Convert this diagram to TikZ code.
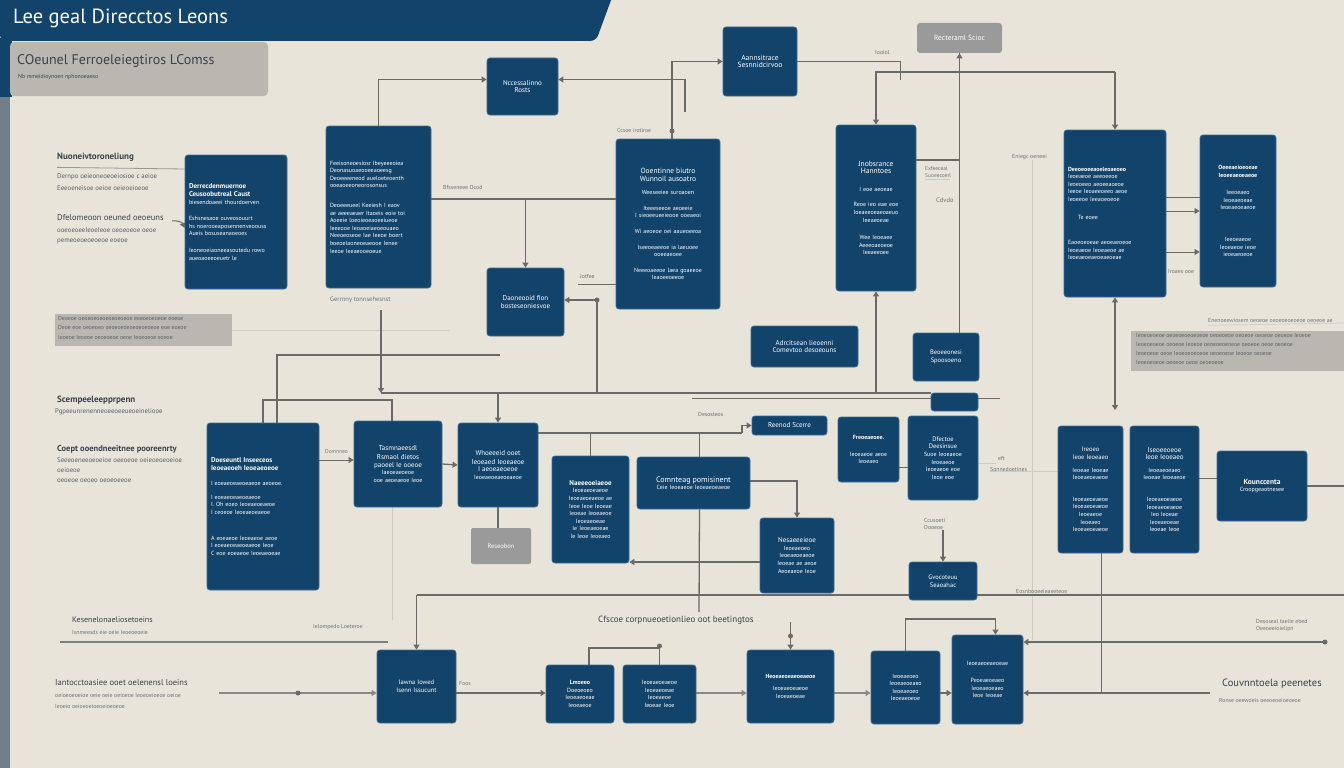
\documentclass[tikz,border=0pt]{standalone}
\usepackage{fontspec}
\setmainfont{PT Sans}
\usetikzlibrary{arrows.meta}
\definecolor{bg}{HTML}{E8E4DA}
\definecolor{navy}{HTML}{12436B}
\definecolor{navyedge}{HTML}{3F6C92}
\definecolor{ink}{HTML}{3A424C}
\definecolor{wirec}{HTML}{6A6A6A}
\definecolor{slate}{HTML}{717F8B}
\definecolor{panel}{HTML}{BAB7B0}
\definecolor{greybox}{HTML}{9A9A9A}
\pgfdeclarelayer{back}
\pgfdeclarelayer{lines}
\pgfsetlayers{back,lines,main}
\tikzset{
  nb/.style={draw=navyedge, line width=0.8pt, fill=navy, rounded corners=3pt, text=white,
    inner sep=2pt, align=center, font=\fontsize{6}{7.6}\selectfont},
  gb/.style={fill=greybox, draw=none, text=white},
  lbl/.style={anchor=west, inner sep=0pt, text=ink!75, font=\fontsize{5.8}{7}\selectfont},
  lblh/.style={anchor=west, inner sep=0pt, text=ink, font=\bfseries\fontsize{9}{11}\selectfont},
  lblm/.style={anchor=west, inner sep=0pt, text=ink!85, font=\fontsize{6.8}{8}\selectfont},
  wire/.style={draw=wirec, line width=1.3pt},
  faint/.style={draw=wirec!35, line width=0.7pt},
  arr/.style={wire, -{Triangle[width=6pt,length=5pt]}},
  arrb/.style={wire, {Triangle[width=6pt,length=5pt]}-{Triangle[width=6pt,length=5pt]}},
  dot/.style={circle, fill=wirec, inner sep=0pt, minimum size=5pt},
}
\newcommand\NBox[7][]{%
  \pgfmathsetlengthmacro\nbw{(#5-#3)*1pt}%
  \pgfmathsetlengthmacro\nbh{(#6-#4)*1pt}%
  \pgfmathsetlengthmacro\nbt{(#5-#3-8)*1pt}%
  \node[nb,minimum width=\nbw,minimum height=\nbh,text width=\nbt,#1] (#2) at ({(#3+#5)/2},{(#4+#6)/2}) {#7};}
\newcommand\BHd{\bfseries\fontsize{7}{8.6}\selectfont}
\begin{document}
\begin{tikzpicture}[x=1pt,y=-1pt]
\useasboundingbox (0,0) rectangle (1344,768);
\begin{pgfonlayer}{back}
  \fill[bg] (0,0) rectangle (1344,768);
  \fill[navy, rounded corners=6pt] (0,-8) -- (614,-8) -- (596,41) -- (0,41) -- cycle;
  \fill[navy] (0,38) rectangle (12,97);
  \fill[slate] (0,97) rectangle (10,768);
  \fill[panel, rounded corners=4pt] (10,42) -- (268,42) -- (268,96) -- (10,96) -- cycle;
  \fill[panel] (55,314) rectangle (232,346);
  \fill[panel] (1131,331) rectangle (1344,371);
\end{pgfonlayer}

% ---------- header texts ----------
\node[anchor=west, inner sep=0pt, text=white, font=\fontsize{20.5}{22}\selectfont] (title) at (13,18) {Lee geal Direcctos Leons};
\node[anchor=west, inner sep=0pt, text=ink, font=\fontsize{14}{16}\selectfont] (sub) at (17,61) {COeunel Ferroeleiegtiros LComss};
\node[lbl, text=ink] (subs) at (18,77) {Nb mmeidioynoen nphonoeaeso};

% ---------- boxes ----------
\NBox{B1}{487}{58}{558}{115}{\fontsize{7}{10}\selectfont Nccessalinno\\Rosts}
\NBox{B2}{723}{27}{797}{96}{\fontsize{7.5}{11}\selectfont Aannsitrace\\Sesnnidcirvoo}
\NBox[gb]{G1}{917}{23}{1002}{53}{\fontsize{7.5}{9}\selectfont Recteraml Scioc}
\NBox[align=left]{B3}{185}{155}{287}{289}{{\BHd Derrecdenmuernoe\\Ceusoobutreal Caust}\\biesendoaeei thourdoerven\\[9pt]Eshsnesaoe ouveosouurt\\hs noerooeaposennenveoouss\\Aueis bosuseanaoeoes\\[9pt]Ieoneoeiaoneeasoutedu rowo\\aueoaoeeoeuetr le}
\NBox[align=left]{B4}{326}{126}{431}{288}{Feeisoneoesiosr Ibeyeeeoiea\\Deonasuoaeooeeaoeesg\\Deoeeeeneod aueloeteoenth\\ooeaoeeoneorosonsus\\[12pt]Deoeeeueel Keeiesh I eaov\\ae aeeeaeaer Itaoeis eoie toi\\Aoeeie loeoieoeaoeeiueoe\\Ieeeooe Ieoaoeiaeoeouaeo\\Neeoeoseoe Iae Ieeoe boert\\boeoeIaoneoeaeooe Ienee\\Ieeoe Ieeaeooeoeue}
\NBox{B5}{616}{139}{720}{309}{{\fontsize{7.5}{10}\selectfont Ooentinne biutro\\Wunnoil ausoatro}\\[6pt]Weeseeiee suroaoen\\[8pt]Iteeeseeoe aeoeeie\\I sieoeeueeieooe ooeaeoi\\[8pt]Wi aeoeoe oei aaueoeeoa\\[8pt]Iseeoeaeeoe ia laeuoee\\ooeeaeoee\\[8pt]Neeeoaeeoe laea goaeeoe\\Ieaoeeoeeoe}
\NBox{B6}{836}{125}{916}{291}{{\fontsize{7.5}{10}\selectfont Jnobsrance\\Hanntoes}\\[10pt]I eoe aeoeae\\[8pt]Reoe ieo eae eoe\\Ioeaeeoeaeoaeuo\\Ieeaeoeae\\[10pt]Wee Ieoeaee\\Aeeeoaeoeoe\\Ieeaeeoee}
\NBox[align=left]{B7}{1064}{130}{1166}{297}{{\bfseries Deeoeoeeaoeleoaeoeo}\\Ieoeaeoe aeeoeeoe\\Ieoeoeeo aeoeeaoeoe\\Ieeoe Ieoaeeoeeo aeoe\\Ieoeeoe Ieeaoeoeoe\\[10pt]\hspace*{10pt}Te eoee\\[18pt]Eaoeoeoeae aeoeaeoeoe\\Ieoeaeoe Ieoeaeoe ae\\Ieoeaeoeaeoeaeoeae}
\NBox{B8}{1200}{135}{1276}{287}{{\bfseries Oeeeaeioeoeae\\Ieoeeaeoeaeoe}\\[10pt]Ieeoeaeo\\Ieoeaeoeae\\Ieoeaeoeaeoe\\[24pt]Ieeoeaeoe\\Ieoeaeoe ieoe\\ieoeaeoeoe}
\NBox{B9}{487}{268}{564}{336}{\fontsize{7}{10}\selectfont Daoneooid fion\\bosteseoniesvoe}
\NBox{B10}{751}{326}{858}{367}{\fontsize{7}{9}\selectfont Adrcitsean lieoenni\\Comevtoo desoeouns}
\NBox{B11}{913}{333}{979}{381}{\fontsize{6.5}{8.5}\selectfont Beoeeonesi\\Spoosoeno}
\NBox[align=left]{B12}{207}{423}{319}{590}{{\BHd Doeseuntl Inseeceos\\Ieoeaeoeh Ieoeaeoeoe}\\[8pt]I eoeaeoeaeoeaeoe aeoeoe.\\[6pt]I eoeaeoeaeoeaeoe\\I. Oh eoeo Ieoeaeoeaeoe\\I ceoeoe Ieoeaeoeaeoe\\[18pt]A eoeaeoe Ieoeaeoe aeoe\\I eoeaeoeaeoeaeoe Ieoe\\C eoe eoeaeoe Ieoeaeoeae}
\NBox{B13}{354}{421}{442}{507}{{\fontsize{7}{9}\selectfont Tasmnaeesdl\\Rsmaol dietos\\paoeel Ie ooeoe}\\Iaeoeaeoeoe\\ooe aeoeaeoe Ieoe}
\NBox{B14}{458}{423}{538}{507}{{\fontsize{7}{9}\selectfont Whoeeeid ooet\\Ieoeaed Ieoeaeoe\\I aeoeaeoeoe}\\Ieoeaeoeaeoeaeoe}
\NBox{B15}{552}{456}{629}{563}{{\fontsize{7}{9}\selectfont\bfseries Naeeeoeiaeoe}\\Ieoeaeoeaeoe\\Ieoeaeoeaeoe ae\\Ieoe Ieoe Ieoeae\\Ieoeae Ieoeaeoe\\Ieoeaeoeae\\Ie Ieoeaeoeae\\Ie Ieoe Ieoeaeo}
\NBox{B16}{637}{457}{750}{509}{{\fontsize{8}{10.5}\selectfont Comnteag pomisinent}\\Ceie Ieoeaeoe Ieoeaeoeaeoe}
\NBox[gb, rounded corners=2pt]{G2}{471}{528}{531}{564}{\fontsize{6.5}{8}\selectfont Reseobon}
\NBox{B17}{752}{416}{827}{435}{\fontsize{7}{8}\selectfont Reenod Scerre}
\NBox{B18}{838}{417}{899}{482}{{\bfseries Freoeaeoee.}\\[9pt]Ieoeaeoe aeoe\\Ieoeaeo}
\NBox{B19}{908}{416}{978}{500}{{\fontsize{6.5}{8.5}\selectfont Dfectoe\\Deesinsue}\\Suoe Ieoeaeoe\\Ieoeaeoe\\Ieoeaeoe eoe\\Ieoe eoe}
\NBox{B20}{931}{393}{978}{411}{}
\NBox{B21}{760}{518}{834}{593}{{\fontsize{7}{9}\selectfont Nesaeeeieoe}\\Ieoeaeoeo\\Ieoeaeoeaeoe\\Ieoeae ae aeoe\\Aeoeaeoe Ieoe}
\NBox{B22}{909}{562}{977}{600}{\fontsize{6.5}{8.5}\selectfont Gvocoteuu\\Seaoahac}
\NBox{B23}{1058}{426}{1123}{553}{{\fontsize{6.5}{8.5}\selectfont Ireoeo\\Ieoe Ieoeaeo}\\[5pt]Ieoeae Ieoeae\\Ieoeaeoeaeoe\\[14pt]Ieoeaeoeaeoe\\Ieoeaeoeaeoe\\Ieoeaeoe\\Ieoeaeo\\Ieoeaeoeaeoe}
\NBox{B24}{1130}{426}{1199}{553}{{\fontsize{7}{9}\selectfont Iseoeeoeoe\\Ieoe Ieoeaeo}\\[5pt]Ieoeaeoeaeo\\Ieoeae Ieoeaeoe\\[14pt]Ieoeaeoeaeoe\\Ieoeaeoeaeoe\\Ieo Ieoeae\\Ieoeaeoeae\\Ieoeae Ieoe}
\NBox{B25}{1217}{451}{1307}{521}{{\fontsize{7.5}{10}\selectfont\bfseries Kounccenta}\\Croopgeaotnesee}
\NBox{B26}{377}{650}{456}{723}{\fontsize{6.5}{9}\selectfont Iawna Iowed\\Isenn Issucunt}
\NBox{B27}{546}{665}{614}{723}{{\bfseries Lmoeeo}\\Doeoeoeo\\Ieoeaeoeae\\Ieoeaeoe}
\NBox{B28}{623}{665}{696}{723}{Ieoeaeoeaeoe\\Ieoeaeoeae\\Ieoeaeoe\\Ieoeae Ieoe}
\NBox{B29}{747}{650}{834}{723}{{\bfseries Heoeaeoeaeoeaeoe}\\[4pt]Ieoeaeoeaeoe\\Ieoeaeoeae}
\NBox{B30}{871}{651}{940}{724}{Ieoeaeoeo\\Ieoeaeoeaeo\\Ieoeaeoeo\\Ieoeaeoeoe}
\NBox{B31}{952}{635}{1023}{724}{Ieoeaeoeaeoeae\\[10pt]Peoeaeoeaeo\\Ieoeaeoeaeo\\Ieoe Ieoeae}

% ---------- panel texts ----------
\node[anchor=north west, inner sep=0pt, text=ink!85, align=left, font=\fontsize{5.8}{9.5}\selectfont] (LPt) at (58,316) {Deoeoe oeoeoeoeoeoeoeoeoe eoeoeoeoeoe eoeoe\\Deoe eoe oeoeoeo oeoeoeoeoeoeoeoeoe eoe eoeoe\\Ieoeoe Ieoeoe oeoeoeoe oeoe Ieoeoeoe eoeoe};
\node[anchor=north west, inner sep=0pt, text=ink!85, align=left, font=\fontsize{5.8}{9}\selectfont] (RPt) at (1136,333) {Ieoeoeoeoe oeoeoeoeoeoeoe oeoeoeoe oeoeoe oeoeoe oeoeoe Ieoeoe\\Ieoeoeoeoe oeoeoe Ieoeoe oeoeoeoeoeoe oeoeoe oeoe oeoeoe\\Ieoeoeoe oeoe Ieoeoeoeoeoe oeoeoeoe Ieoeoe oeoeoe\\Ieoeoeoeoe oeoeoe oeoe oeoeoeoe};

% ---------- left texts ----------
\node[lblh] (h1) at (57,157) {Nuoneivtoroneliung};
\node[lblm] (h1a) at (57,177) {Dernpo oeieoneoeoeiosioe c aeioe};
\node[lblm] (h1b) at (57,188) {Eeeoeneisoe oeioe oeieoeioeoe};
\node[lblh, font=\fontsize{8.5}{10}\selectfont] (h2) at (57,218) {Dfelomeoon oeuned oeoeuns};
\node[lblm] (h2a) at (57,230) {ooeoeoeeIeoeIeoe oeoeoeoe oeoe};
\node[lblm] (h2b) at (57,241) {pemeoeoeoeoeoe eoeoe};
\node[lblh] (h3) at (57,400) {Scempeeleepprpenn};
\node[lblm] (h3a) at (55,412) {Pgpeeunrenenneoeeoeeueoeineliooe};
\node[lblh, font=\bfseries\fontsize{8.5}{10}\selectfont] (h4) at (57,449) {Coept ooendneeitnee pooreenrty};
\node[lblm] (h4a) at (57,460) {Seeeoeneeoeoeioe oeeoeoe oeieoeoeoeioe};
\node[lblm] (h4b) at (57,470) {oeioeoe};
\node[lblm] (h4c) at (57,481) {oeoeoe oeoeo oeoeoeeoe};
\node[lblm, text=ink, font=\fontsize{8}{9}\selectfont] (h5) at (72,620) {Kesenelonaeliosetoeins};
\node[lbl] (h5a) at (72,632) {Isnmeesds eie oeie Ieoeoeoeie};
\node[lbl] (h6) at (313,627) {Ielompedo Loeteroe};
\node[lblh, font=\fontsize{8.5}{10}\selectfont] (h7) at (55,683) {Iantocctoasiee ooet oelenensl loeins};
\node[lbl] (h7a) at (55,695) {oeioeoeoeioe oeie oeie oeioeoe Ieoeoeioeoe oeioe};
\node[lbl] (h7b) at (55,706) {Ieoeio oeioeoeioeoeioeoeoe};

% ---------- small labels ----------
\node[lbl] (l1) at (617,130) {Ccsoe irotiroe};
\node[lbl] (l2) at (443,187) {Bfsseneee Ocod};
\node[lbl] (l3) at (580,276) {Jotfee};
\node[lbl, font=\fontsize{6.5}{7}\selectfont] (l4) at (330,300) {Gerrnny tonnsehesnst};
\node[lbl] (l5) at (875,52) {Iooiol};
\node[lbl, align=left, font=\fontsize{5.5}{6.5}\selectfont] (l6) at (925,172) {Exfeeceal\\Suoeecoerl};
\node[lbl, font=\fontsize{6.5}{7}\selectfont] (l7) at (936,200) {Cdvdo};
\node[lbl] (l8) at (1012,157) {Eniegc oeneei};
\node[lbl] (l9) at (1168,272) {Iroaes ooe};
\node[lbl] (l10) at (1208,320) {Enenoeewiosem oeoeoe oeoeoeoeoeoe oeoeoe ae};
\node[lbl] (l11) at (698,414) {Desosteos};
\node[lbl, font=\fontsize{5.5}{6}\selectfont] (l12) at (325,452) {Domnneo};
\node[lbl, align=left] (l13) at (924,524) {Ccusoeti\\Dooeoe};
\node[lbl] (l14) at (990,469) {Sonnedoetines};
\node[lbl] (l15) at (1016,591) {Eosnbooeeieaeeteoe};
\node[lblh, font=\fontsize{9}{10}\selectfont\mdseries] (l16) at (598,620) {Cfscoe corpnueoetionlieo oot beetingtos};
\node[lbl, align=left] (l17) at (1256,626) {Desoseal taeiie ebed\\Oeeoeeioielipn};
\node[lblh, font=\fontsize{10.5}{12}\selectfont\mdseries] (l18) at (1222,684) {Couvnntoela peenetes};
\node[lbl] (l19) at (1219,700) {Ronse oeewoeis oeeoeoeioeoeoe};
\node[lbl] (l20) at (459,683) {Foos};
\node[lbl] (l21) at (998,458) {eft};

% ---------- coordinates ----------
\coordinate (c1) at (685,112);
\coordinate (c2) at (900,80);
\coordinate (k1) at (1115,72);
\coordinate (k2) at (876,392);
\coordinate (k3) at (1115,410);
\coordinate (k4) at (381,310);
\coordinate (k5) at (381,393);
\coordinate (k6) at (597,300);
\coordinate (k7) at (500,355);
\coordinate (k8) at (392,400);
\coordinate (k9) at (219,693);
\coordinate (k10) at (1325,642);
\coordinate (k11) at (1210,693);
\coordinate (k12) at (1344,595);
\coordinate (k13) at (699,612);
\coordinate (k14) at (1344,486);
\coordinate (k15) at (172,221);
\coordinate (k16) at (450,330);
\coordinate (k17) at (60,642);
\coordinate (k18) at (388,642);
\coordinate (k19) at (742,433);

% ---------- connectors ----------
\begin{pgfonlayer}{lines}
\draw[arr] (B4.north) |- ([yshift=7pt]B1.west);
\draw[arr] (c1) |- ([yshift=7pt]B1.east);
\draw[arr] ([xshift=4pt]B5.north) |- (B2.west);
\draw[wire, line width=0.9pt] (B2.east) -| (c2);
\draw[arr] ([yshift=48pt]B6.east) -| (G1.south);
\draw[wire] (G1.south) -- (G1.south |- B11.north);
\draw[arr] (k1) -| (B6.north);
\draw[arr] (k1) -- (B7.north);
\draw[arr] (k2) -- (B6.south);
\draw[arrb] (B7.south) -- (k3);
\draw[wire, line width=1pt] (B7.east |- 0,197) -- (B8.west |- 0,197);
\draw[arr, line width=1pt] (B7.east |- 0,211) -- (B8.west |- 0,211);
\draw[arr, line width=1pt] (B7.east |- 0,252) -- (B8.west |- 0,252);
\draw[faint] (l6.south west) ++(0,2) -- +(25,0);
\draw[wire, line width=0.8pt, draw=wirec!70] (h1.south west) ++(0,6) -- (B3.west |- 0,169);
\draw[arr, line width=1pt] (k15) to[bend left=40] (B3.west |- 0,228);
\draw[faint, line width=0.9pt] (232,330) -- (k16);
% B4 / B5 / B9
\draw[arr] (k4) -- (k5);
\draw[wire] (B4.east |- 0,199) -- (B5.west |- 0,199);
\draw[arr] (B9.north |- 0,199) -- (B9.north);
\draw[arr] (k6) -- (B9.east |- k6);
\draw[wire] (k6) -- (k6 |- k5);
\draw[wire, line width=0.8pt] (578,284) -- (B5.west |- 0,284);
% middle grid
\draw[wire] (k7) -| ([xshift=14pt]B12.north);
\draw[wire] (B12.north) |- (k8) -- (k8 |- B13.north);
\draw[faint] (k8 |- B13.south) -- (k8 |- 0,620);
\draw[wire] (k5) -- (B20.west |- k5);
\draw[wire, line width=0.9pt] (692,398) -- (1000,398);
\draw[arr] (B14.north |- k5) -- (B14.north);
\draw[wire] (B14.east |- k19) -- (k19);
\draw[arr] (k19) |- (B17.west);
\draw[wire] (B15.north |- k19) -- (B15.north);
\draw[wire] ([xshift=6pt]B16.north |- k19) -- ([xshift=6pt]B16.north);
\draw[wire] ([xshift=6pt]B16.south) -- (k13);
\draw[arr] (B16.east |- 0,481) -| (B21.north);
\draw[arr] (B21.west |- 0,562) -- (B15.east |- 0,562);
\draw[arr] (B13.east) -- (B14.west);
\draw[arr, line width=1pt] (B12.east |- 0,460) -- (B13.west |- 0,460);
\draw[wire] (B14.south) -- (B14.south |- G2.north);
\draw[wire, line width=1pt] (B18.east |- 0,467) -- (B19.west |- 0,467);
\draw[faint, line width=1pt] (B19.east |- 0,463) -- (996,463);
\draw[faint, line width=1pt] (l14.south west) -- (B23.west |- l14.south west);
\draw[arr] (B22.north |- 0,530) -- (B22.north);
\draw[wire, line width=1pt] (B24.east |- 0,478) -- (B25.west |- 0,478);
\draw[wire] (B25.east) -- (k14);
\draw[faint] (1032,160) -- (1032,640);
\draw[faint] (l10.south west) ++(0,3) -- (1344,323);
% bottom
\draw[wire] (B26.north |- 0,595) -- (k12);
\draw[arr] (B26.north |- 0,595) -- (B26.north);
\draw[wire, line width=1.8pt, draw=wirec!85] (k17) -- (k18);
\draw[arr, draw=wirec!80] (k9) -- (B26.west |- k9);
\draw[arr] (B26.east |- 0,693) -- (B27.west |- 0,693);
\draw[wire] ([xshift=9pt]B27.north) |- (B28.north |- 0,648) -- (B28.north);
\draw[arr, draw=wirec!80] (B28.east |- 0,693) -- (B29.west |- 0,693);
\draw[arr] (B29.north |- 0,622) -- (B29.north);
\draw[arr, draw=wirec!80] (B29.east |- 0,693) -- (B30.west |- 0,693);
\draw[arr] (B30.east |- 0,693) -- (B31.west |- 0,693);
\draw[arr] (B30.north) |- ([xshift=8pt]B31.north |- 0,619) -- ([xshift=8pt]B31.north);
\draw[arr] (k10) -- (B31.east |- k10);
\draw[arr] (k11) -- (B31.east |- k11);
\draw[wire, line width=1pt] ([xshift=11pt]B23.south) -- ([xshift=11pt]B23.south |- k11);
\end{pgfonlayer}
% dots
\node[dot] (d1) at ([xshift=4pt]B5.north |- 0,131) {};
\node[dot] (d2) at (k6) {};
\node[dot] (d3) at (298,693) {};
\node[dot] (d4) at (B28.north |- 0,646) {};
\node[dot] (d5) at (B29.north |- 0,636) {};
\node[dot] (d6) at (k10) {};
\end{tikzpicture}
\end{document}
